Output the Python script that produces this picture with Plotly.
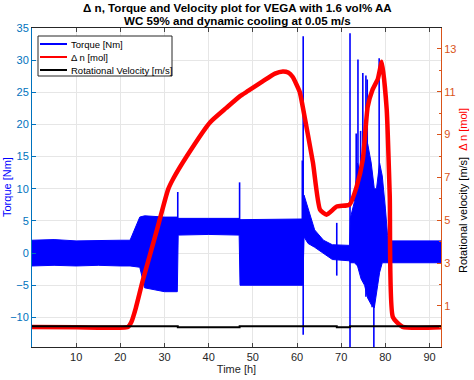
import plotly.graph_objects as go

# ---------------- data ----------------
# Torque envelope of the dense oscillating signal [Nm]
torque_t = [0, 5, 10, 15, 20, 22.2, 24.4, 25.5, 30, 32.9, 33.1, 40, 46.9, 47.1, 55, 61.3,
            61.6, 62.5, 64, 66, 68, 71.9, 72.1, 73.0, 73.7, 74.5, 75.3, 76.0, 76.8, 77.5,
            78.0, 78.7, 79.3, 80.0, 80.5, 81.0, 85, 92.6]
torque_hi = [2.0, 2.1, 1.9, 2.0, 2.0, 2.0, 5.6, 5.8, 5.6, 5.6, 5.4, 5.4, 5.4, 5.2, 5.2, 5.3,
             9.0, 7.0, 3.6, 2.0, 1.3, 1.2, 5.5, 8.0, 14.0, 12.0, 18.0, 17.0, 14.0, 10.0,
             10.0, 14.0, 12.0, 7.0, 2.8, 1.9, 1.9, 1.9]
torque_lo = [-2.0, -1.9, -2.0, -1.9, -2.0, -2.0, -2.2, -5.4, -6.0, -6.0, 2.8, 2.9, 2.8, -5.0, -5.0, -5.0,
             2.5, 1.5, 0.9, 0.0, -1.0, -1.2, -1.5, -1.5, -2.0, -4.0, -5.0, -7.0, -8.0, -8.5,
             -6.0, -3.0, -1.5, -1.5, -1.6, -1.6, -1.5, -1.5]

# Torque spikes [Nm]
spike_t = [33.0, 47.0, 61.2, 61.4, 69.0, 72.0, 73.4, 73.8, 74.4, 74.9, 75.6, 75.9, 77.0, 77.4, 78.6]
spike_hi = [9.5, 11.0, 14.4, 33.7, 4.7, 34.2, 18.6, 30.1, 19.0, 28.0, 27.6, 27.0, 8.0, 5.0, 30.3]
spike_lo = [5.0, 5.0, -5.0, -12.7, -3.5, -16.0, -1.0, -2.0, -3.0, -4.0, -6.8, -5.0, -8.4, -16.0, -3.0]

# Delta n [mol]
dn_t = [0, 10, 21.7, 22.5, 23.5, 25.1, 28.3, 30.8, 32, 35, 40.3, 44, 47.1, 49, 52.3, 55, 56.8, 58,
        59, 60.6, 61.3, 63.6, 65.2, 66.7, 69, 71.9, 73.5, 74.9, 76, 77.1, 78.3, 79.2, 80.3,
        81, 81.7, 83.9, 92.6]
dn_v = [0.02, 0.0, 0.02, 0.25, 0.9, 2.2, 4.56, 6.43, 6.95, 7.98, 9.57, 10.25, 10.8, 11.05, 11.5, 11.85,
        11.95, 11.9, 11.7, 11.0, 10.3, 7.7, 5.5, 5.26, 5.64, 5.73, 6.57, 7.84, 10.3, 11.1, 11.6,
        12.4, 10.2, 6.1, 0.48, 0.02, 0.0]

# Rotational velocity [m/s]
vel_t = [0, 33.0, 33.01, 47.0, 47.01, 69.0, 69.01, 72.0, 72.01, 92.6]
vel_v = [0.05, 0.05, 0.0, 0.0, 0.05, 0.05, 0.0, 0.0, 0.05, 0.05]

x_ticks = [10, 20, 30, 40, 50, 60, 70, 80, 90]
y_ticks = [-10, -5, 0, 5, 10, 15, 20, 25, 30, 35]
y2_ticks = [1, 3, 5, 7, 9, 11, 13]

series_names = ["Torque [Nm]", "Δ n [mol]", "Rotational Velocity [m/s]"]
series_colors = ["#0000FF", "#FF0000", "#000000"]

FONT = "Liberation Sans, Arial, sans-serif"
BLUE = "#0000FF"
LEFTC = "#0072BD"
RIGHTC = "#D95319"

fig = go.Figure()

# torque band (envelope polygon)
fig.add_trace(go.Scatter(
    x=torque_t + torque_t[::-1], y=torque_hi + torque_lo[::-1],
    fill="toself", fillcolor=BLUE, mode="lines",
    line=dict(color=BLUE, width=1), showlegend=False, hoverinfo="skip"))

# torque spikes
sx, sy = [], []
for t, lo, hi in zip(spike_t, spike_lo, spike_hi):
    sx += [t, t, None]
    sy += [lo, hi, None]
fig.add_trace(go.Scatter(x=sx, y=sy, mode="lines", name=series_names[0],
                         line=dict(color=BLUE, width=1.6), showlegend=False))

fig.add_trace(go.Scatter(x=dn_t, y=dn_v, mode="lines", name=series_names[1], yaxis="y2",
                         line=dict(color="#FF0000", width=4.5, shape="spline", smoothing=0.5),
                         showlegend=False))
fig.add_trace(go.Scatter(x=vel_t, y=vel_v, mode="lines", name=series_names[2],
                         yaxis="y2", line=dict(color="#000000", width=2), showlegend=False))

# ---------- layout (pixel geometry of the plot area: x 32..441, y 28..347) ----------
L, R, T, B = 32, 441, 28, 347
W, H = R - L, B - T
def px(x):
    return (x - L) / W
def py(y):
    return 1 - (y - T) / H

shapes = []
annotations = []

# legend box drawn in paper space
shapes.append(dict(type="rect", xref="paper", yref="paper",
                   x0=px(38), x1=px(172), y0=py(76), y1=py(36),
                   line=dict(color="#262626", width=1), fillcolor="white", layer="above"))
for i, (nm, col) in enumerate(zip(series_names, series_colors)):
    yy = py(44 + 13 * i)
    shapes.append(dict(type="line", xref="paper", yref="paper",
                       x0=px(40), x1=px(67), y0=yy, y1=yy,
                       line=dict(color=col, width=2), layer="above"))
    annotations.append(dict(text=nm, xref="paper", yref="paper", x=px(68.5), y=yy,
                            xanchor="left", yanchor="middle", showarrow=False,
                            font=dict(family=FONT, size=9.5, color="#000000")))

# title lines
annotations.append(dict(text="<b>Δ n, Torque and Velocity plot for VEGA with 1.6 vol% AA</b>",
                        xref="paper", yref="paper", x=px(237), y=py(7.2),
                        xanchor="center", yanchor="middle", showarrow=False, borderpad=0,
                        font=dict(family=FONT, size=11.6, color="#000000")))
annotations.append(dict(text="<b>WC 59% and dynamic cooling at 0.05 m/s</b>",
                        xref="paper", yref="paper", x=px(237), y=py(20.5),
                        xanchor="center", yanchor="middle", showarrow=False, borderpad=0,
                        font=dict(family=FONT, size=11.6, color="#000000")))
# axis titles
annotations.append(dict(text="Torque [Nm]", xref="paper", yref="paper",
                        x=px(7), y=py(187), textangle=-90,
                        xanchor="center", yanchor="middle", showarrow=False,
                        font=dict(family=FONT, size=11, color=BLUE)))
annotations.append(dict(text="Rotational velocity [m/s]  <span style='color:#FF0000'>Δ n [mol]</span>",
                        xref="paper", yref="paper", x=px(463), y=py(190), textangle=-90,
                        xanchor="center", yanchor="middle", showarrow=False,
                        font=dict(family=FONT, size=11, color="#000000")))

fig.update_layout(
    width=474, height=380,
    margin=dict(l=L, r=474 - R, t=T, b=380 - B),
    paper_bgcolor="white", plot_bgcolor="white",
    font=dict(family=FONT, size=11, color="#262626"),
    showlegend=False,
    shapes=shapes, annotations=annotations,
    xaxis=dict(range=[0, 92.6], tickvals=x_ticks, ticks="inside", ticklen=4,
               showgrid=True, gridcolor="#e6e6e6", gridwidth=1, zeroline=False,
               showline=True, linecolor="#262626", linewidth=1, mirror="ticks",
               tickfont=dict(size=11, color="#262626"), automargin=False,
               title=dict(text="Time [h]", standoff=2, font=dict(size=11, color="#262626"))),
    yaxis=dict(range=[-14.6, 35], tickvals=y_ticks, ticks="inside", ticklen=4,
               showgrid=True, gridcolor="#e6e6e6", gridwidth=1, zeroline=False,
               showline=True, linecolor=LEFTC, linewidth=1, automargin=False,
               tickfont=dict(size=11, color=LEFTC), tickcolor=LEFTC),
    yaxis2=dict(range=[-0.92, 13.98], tickvals=y2_ticks, overlaying="y", side="right",
                ticks="inside", ticklen=4, showgrid=False, zeroline=False, automargin=False,
                showline=True, linecolor=RIGHTC, linewidth=1, tickcolor=RIGHTC,
                tickfont=dict(size=11, color=RIGHTC),
                minor=dict(dtick=1, tick0=0, ticks="inside", ticklen=2, tickcolor=RIGHTC)),
)

fig.write_html("out.html", config={"displayModeBar": False},
               post_script="document.body.style.margin='0';")
